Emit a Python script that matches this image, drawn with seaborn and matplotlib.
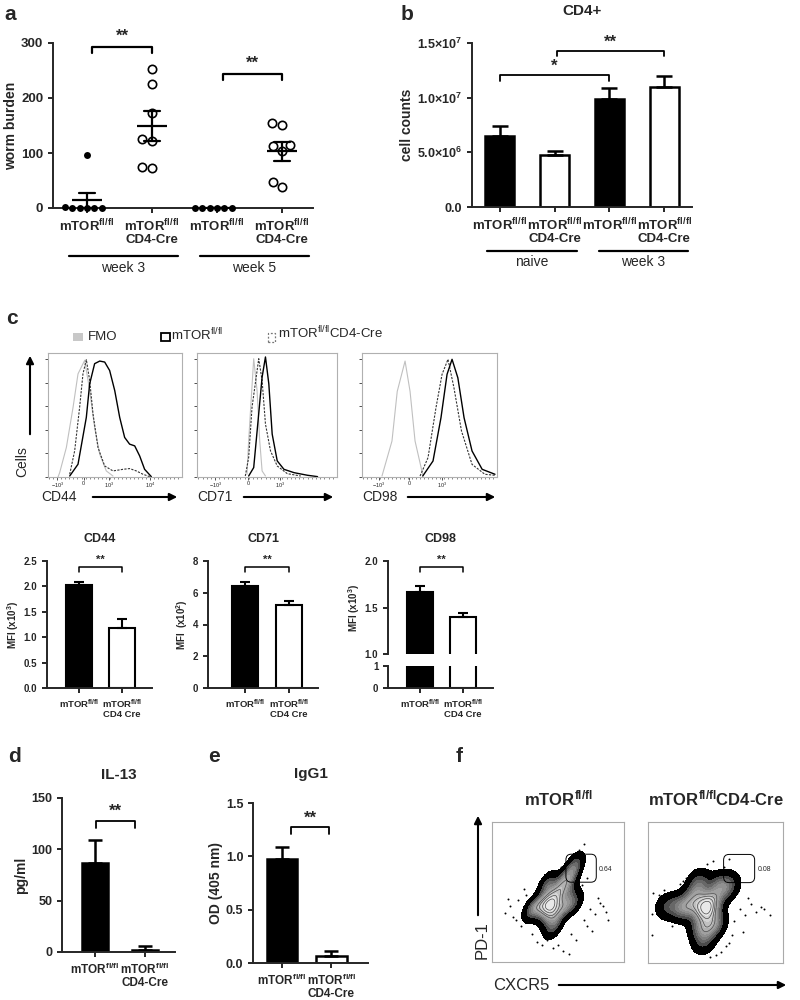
import numpy as np
import pandas as pd
import matplotlib.pyplot as plt
import seaborn as sns
from matplotlib.patches import Rectangle, FancyArrowPatch, FancyBboxPatch
from matplotlib.lines import Line2D
from matplotlib.colors import LinearSegmentedColormap, ListedColormap

sns.set_theme(style='ticks')
plt.rcParams['font.family'] = ['Liberation Sans', 'DejaVu Sans']
plt.rcParams['mathtext.fontset'] = 'custom'
plt.rcParams['mathtext.rm'] = 'Liberation Sans'
plt.rcParams['mathtext.bf'] = 'Liberation Sans:bold'
plt.rcParams['mathtext.default'] = 'regular'
plt.rcParams['axes.linewidth'] = 1.4
plt.rcParams['xtick.major.width'] = 1.4
plt.rcParams['ytick.major.width'] = 1.4
plt.rcParams['xtick.major.size'] = 3.5
plt.rcParams['ytick.major.size'] = 3.5

WT = 'mTOR$^{fl/fl}$'
KO = 'mTOR$^{fl/fl}$\nCD4-Cre'
KO_SP = 'mTOR$^{fl/fl}$\nCD4 Cre'

# ---- a: worm burden (individual mice)
worm_groups = ['wt3', 'ko3', 'wt5', 'ko5']
worm_wt3 = [97, 0, 0, 0, 0, 0, 1]
worm_ko3 = [253, 225, 172, 125, 122, 72, 75]
worm_wt5 = [0, 0, 0, 0, 0, 0]
worm_ko5 = [150, 155, 112, 115, 103, 38, 47]

# ---- b: CD4+ cell counts
cell_groups = ['naive_wt', 'naive_ko', 'wk3_wt', 'wk3_ko']
cell_means = [6.45e6, 4.75e6, 9.85e6, 1.10e7]
cell_sem = [1.0e6, 0.35e6, 1.0e6, 0.95e6]

# ---- c: histograms (x = % of axis width, y = % of mode)
cd44_fmo_x = [7.5, 8.7, 13.7, 18.7, 22.4, 27.4, 31.1, 34.8, 38.6, 43.5, 48.5]
cd44_fmo_y = [0, 3.5, 23.8, 56.2, 83.2, 94.1, 69.7, 40.0, 18.4, 4.9, 0.8]
cd44_ko_x = [16.2, 19.9, 23.6, 26.1, 28.6, 31.1, 33.6, 37.3, 42.3, 48.5, 56.0, 60.9, 65.9, 70.9, 75.9]
cd44_ko_y = [2.2, 21.1, 56.2, 83.2, 94.6, 77.8, 50.8, 23.8, 8.9, 4.9, 6.2, 6.8, 4.9, 2.2, 0.3]
cd44_wt_x = [16.2, 22.4, 28.6, 31.1, 34.8, 38.6, 42.3, 46.0, 49.8, 53.5, 57.2, 60.9, 64.7, 68.4, 72.1, 77.1]
cd44_wt_y = [0.8, 10.3, 48.1, 75.1, 91.4, 93.5, 92.7, 85.9, 69.7, 48.1, 31.9, 26.5, 25.1, 17.0, 6.2, 0.3]

cd71_fmo_x = [35.7, 36.9, 40.5, 42.9, 44.8, 46.5, 48.9]
cd71_fmo_y = [2.2, 29.2, 95.4, 69.7, 29.2, 4.9, 0.8]
cd71_ko_x = [34.5, 36.9, 39.3, 44.1, 46.5, 48.9, 52.5, 57.3, 64.5, 74.1]
cd71_ko_y = [0.8, 15.7, 56.2, 95.4, 77.8, 42.7, 21.1, 8.9, 2.7, 0.8]
cd71_wt_x = [36.9, 40.5, 43.4, 46.5, 48.9, 51.3, 53.7, 57.3, 62.1, 69.3, 78.9, 86.1]
cd71_wt_y = [0.8, 7.6, 42.7, 80.5, 96.8, 75.1, 34.6, 13.0, 6.2, 3.5, 1.4, 0.3]

cd98_fmo_x = [14.8, 22.2, 26.1, 31.9, 35.6, 39.3, 45.2]
cd98_fmo_y = [0.8, 29.0, 69.0, 93.5, 69.0, 29.0, 0.8]
cd98_ko_x = [43.0, 48.9, 54.8, 59.3, 63.7, 68.1, 73.7, 81.5, 91.0, 99.0]
cd98_ko_y = [0.8, 15.6, 55.9, 82.8, 94.9, 72.0, 37.1, 10.2, 2.2, 1.3]
cd98_wt_x = [45.0, 52.6, 58.5, 63.0, 66.7, 71.0, 75.6, 81.5, 89.0, 98.5]
cd98_wt_y = [0.8, 12.9, 47.8, 82.8, 94.9, 80.0, 47.8, 21.0, 6.2, 2.2]

cd44_ticks = [7.0, 26.6, 45.8, 76.0]
cd71_ticks = [13.0, 36.7, 59.0]
cd98_ticks = [12.6, 34.8, 59.3]

# ---- c: MFI bars
mfi_groups = ['wt', 'ko']
cd44_mfi = [2.02, 1.19]
cd44_sem = [0.07, 0.16]
cd71_mfi = [6.40, 5.25]
cd71_sem = [0.30, 0.20]
cd98_mfi = [1.67, 1.40]
cd98_sem = [0.06, 0.04]

# ---- d / e
il13_means = [87, 2]
il13_sem = [22, 3.5]
igg1_means = [0.975, 0.07]
igg1_sem = [0.11, 0.045]

# ---- f: events (% of axis)
f1_x = [44, 42, 46, 44, 40, 48, 34, 30, 37, 46, 47, 44, 56, 62, 52, 52, 57, 61, 63, 55, 50, 58, 44, 42]
f1_y = [40, 42, 38, 44, 38, 42, 39, 38, 41, 30, 25, 34, 40, 42, 38, 50, 56, 64, 70, 60, 52, 48, 52, 56]
f2_x = [43, 41, 45, 43, 39, 47, 45, 30, 22, 14, 34, 26, 38, 38, 34, 50, 56, 60, 52, 50, 48, 42, 41, 44, 38]
f2_y = [38, 40, 36, 42, 36, 40, 44, 40, 41, 40, 42, 38, 52, 58, 48, 48, 52, 56, 56, 30, 26, 22, 15, 28, 26]
f1_dots_x = [10, 14, 18, 20, 22, 26, 70, 74, 78, 82, 86, 72, 76, 80, 60, 64, 30, 34, 38, 42, 46, 50, 54, 58,
             12, 16, 84, 88, 66, 70, 24, 28, 72, 68, 40, 52]
f1_dots_y = [35, 40, 30, 44, 26, 48, 30, 38, 34, 42, 36, 26, 22, 46, 20, 16, 20, 14, 12, 16, 10, 12, 8, 6,
             45, 32, 40, 30, 80, 84, 52, 30, 60, 55, 62, 68]
f2_dots_x = [8, 10, 12, 20, 24, 28, 64, 68, 72, 76, 80, 84, 70, 74, 62, 66, 58, 30, 34, 40, 46, 50, 54, 60,
             44, 48, 86, 90, 56, 60, 3, 3, 4, 18, 26, 66]
f2_dots_y = [48, 36, 52, 30, 56, 60, 30, 38, 34, 42, 36, 40, 22, 46, 20, 50, 12, 26, 20, 8, 4, 6, 8, 14,
             70, 72, 38, 34, 68, 74, 20, 35, 50, 26, 58, 62]
gate_pct = ['0.64', '0.08']

fig = plt.figure(figsize=(8, 10), dpi=100)


def box(x0, y0, x1, y1):
    return [x0 / 800, 1 - y1 / 1000, (x1 - x0) / 800, (y1 - y0) / 1000]


def fx(x):
    return x / 800


def fy(y):
    return 1 - y / 1000


def fline(x0, x1, y, lw=1.6):
    fig.add_artist(Line2D([fx(x0), fx(x1)], [fy(y), fy(y)], color='black', lw=lw))


def ftext(x, y, s, **kw):
    fig.text(fx(x), fy(y), s, **kw)


def farrow(x0, y0, x1, y1):
    fig.add_artist(FancyArrowPatch((fx(x0), fy(y0)), (fx(x1), fy(y1)), transform=fig.transFigure,
                                   arrowstyle='-|>', mutation_scale=11, lw=1.5, color='black'))


def bracket(ax, x0, x1, y, h, text, ty, fs, lw=1.3):
    ax.plot([x0, x0, x1, x1], [y - h, y, y, y - h], color='black', lw=lw, clip_on=False)
    ax.text((x0 + x1) / 2, ty, text, ha='center', va='center', fontweight='bold', fontsize=fs, clip_on=False)


def bar_panel(ax, groups, means, sem, width, capsize, lw=1.5):
    colors = dict(zip(groups, ['black', 'white'] * 2))
    sns.barplot(x=groups, y=means, hue=groups, palette=colors, order=groups, width=width, saturation=1,
                edgecolor='black', linewidth=lw, legend=False, ax=ax)
    ax.errorbar(range(len(groups)), means, yerr=[np.zeros(len(groups)), sem], fmt='none',
                ecolor='black', elinewidth=lw, capsize=capsize, capthick=lw, clip_on=False)
    sns.despine(ax=ax)
    ax.set_xlabel('')


# ================= a
ax = fig.add_axes(box(53, 43, 313, 208))
df_a = pd.DataFrame({
    'grp': ['wt3'] * len(worm_wt3) + ['ko3'] * len(worm_ko3) + ['wt5'] * len(worm_wt5) + ['ko5'] * len(worm_ko5),
    'val': worm_wt3 + worm_ko3 + worm_wt5 + worm_ko5})
sns.swarmplot(data=df_a[df_a.grp.isin(['wt3', 'wt5'])], x='grp', y='val', order=worm_groups, color='black',
              size=5, ax=ax, clip_on=False, zorder=3)
sns.swarmplot(data=df_a[df_a.grp.isin(['ko3', 'ko5'])], x='grp', y='val', order=worm_groups, color='white',
              edgecolor='black', linewidth=1.2, size=6, ax=ax, clip_on=False, zorder=3)
sns.pointplot(data=df_a, x='grp', y='val', order=worm_groups, errorbar='se', capsize=0.26, color='black',
              marker='_', markersize=22, markeredgewidth=1.6, linestyle='none', err_kws={'linewidth': 1.6},
              ax=ax, zorder=4)
ax.set_ylim(0, 300)
ax.set_xlim(-0.523, 3.477)
ax.set_yticks([0, 100, 200, 300])
ax.set_xticks(range(4))
ax.set_xticklabels([WT, KO, WT, KO], fontweight='bold', fontsize=9.5, linespacing=1.0)
ax.tick_params(axis='y', labelsize=9.5)
for t in ax.get_yticklabels():
    t.set_fontweight('bold')
ax.set_ylabel('worm burden', fontweight='bold', fontsize=10, labelpad=2)
ax.set_xlabel('')
sns.despine(ax=ax)
bracket(ax, 0.08, 1, 292.7, 10.9, '**', 313, 12, lw=1.6)
bracket(ax, 2.09, 3, 243.6, 10.9, '**', 264, 12, lw=1.6)
fline(69, 178, 256)
fline(200, 309, 256)
ftext(123, 268, 'week 3', ha='center', va='center', fontsize=10)
ftext(254, 268, 'week 5', ha='center', va='center', fontsize=10)
ftext(4, 15, 'a', fontsize=15, fontweight='bold', va='center')

# ================= b
ax = fig.add_axes(box(472, 43, 692, 207))
bar_panel(ax, cell_groups, cell_means, cell_sem, 0.53, 5.5, lw=1.8)
ax.set_ylim(0, 1.5e7)
ax.set_xlim(-0.51, 3.51)
ax.set_yticks([0, 5e6, 1e7, 1.5e7])
ax.set_yticklabels(['0.0', '5.0×10$^6$', '1.0×10$^7$', '1.5×10$^7$'], fontweight='bold', fontsize=9)
ax.set_xticks(range(4))
ax.set_xticklabels([WT, KO, WT, KO], fontweight='bold', fontsize=9.5, linespacing=1.0)
ax.set_ylabel('cell counts', fontweight='bold', fontsize=10, labelpad=2)
ax.set_title('CD4+', fontweight='bold', fontsize=11, pad=20)
bracket(ax, 0, 2, 1.207e7, 0.05e7, '*', 1.29e7, 12)
bracket(ax, 1.05, 3, 1.427e7, 0.046e7, '**', 1.51e7, 12)
fline(487, 577, 251)
fline(599, 688, 251)
ftext(532, 262, 'naive', ha='center', va='center', fontsize=10)
ftext(643, 262, 'week 3', ha='center', va='center', fontsize=10)
ftext(401, 15, 'b', fontsize=15, fontweight='bold', va='center')

# ================= c histograms
ftext(6, 318, 'c', fontsize=15, fontweight='bold', va='center')
fig.add_artist(Rectangle((fx(73), fy(341)), 10 / 800, 8 / 1000, transform=fig.transFigure,
                         facecolor='#c8c8c8', edgecolor='none'))
ftext(88, 337, 'FMO', fontsize=9.5, va='center')
fig.add_artist(Rectangle((fx(161), fy(341)), 9 / 800, 8 / 1000, transform=fig.transFigure,
                         facecolor='none', edgecolor='black', lw=1.3))
ftext(171, 335, WT, fontsize=9.5, va='center')
fig.add_artist(Rectangle((fx(268), fy(342)), 7 / 800, 9 / 1000, transform=fig.transFigure,
                         facecolor='none', edgecolor='#777777', lw=0.9, ls=(0, (1.5, 1.5))))
ftext(278, 333, 'mTOR$^{fl/fl}$CD4-Cre', fontsize=9.5, va='center')

hist_specs = [
    ((48, 353, 182, 477), 'CD44', cd44_ticks, ['$-10^3$', '0', '$10^3$', '$10^4$'],
     (cd44_fmo_x, cd44_fmo_y), (cd44_wt_x, cd44_wt_y), (cd44_ko_x, cd44_ko_y), (41, 90, 180)),
    ((197, 353, 337, 477), 'CD71', cd71_ticks, ['$-10^3$', '0', '$10^3$'],
     (cd71_fmo_x, cd71_fmo_y), (cd71_wt_x, cd71_wt_y), (cd71_ko_x, cd71_ko_y), (197, 241, 336)),
    ((362, 353, 497, 477), 'CD98', cd98_ticks, ['$-10^3$', '0', '$10^3$'],
     (cd98_fmo_x, cd98_fmo_y), (cd98_wt_x, cd98_wt_y), (cd98_ko_x, cd98_ko_y), (362, 405, 498)),
]
for rect, marker, ticks, tlabels, fmo, wt, ko, lab in hist_specs:
    ax = fig.add_axes(box(*rect))
    sns.lineplot(x=fmo[0], y=fmo[1], sort=False, estimator=None, color='#c0c0c0', lw=0.8, ax=ax)
    sns.lineplot(x=ko[0], y=ko[1], sort=False, estimator=None, color='#333333', lw=0.8, ls=(0, (2, 1.2)), ax=ax)
    sns.lineplot(x=wt[0], y=wt[1], sort=False, estimator=None, color='black', lw=1.0, ax=ax)
    ax.set_xlim(0, 100)
    ax.set_ylim(0, 100)
    ax.set_xticks(ticks)
    ax.set_xticklabels(tlabels, fontsize=4)
    ax.set_xticks(np.arange(1, 100, 3), minor=True)
    ax.set_yticks(np.arange(0, 100, 19))
    ax.set_yticklabels([])
    ax.tick_params(axis='both', which='major', length=2, width=0.6, pad=1, color='#333333')
    ax.tick_params(axis='x', which='minor', length=1.2, width=0.4, color='#333333')
    for s in ax.spines.values():
        s.set_color('#b0b0b0')
        s.set_linewidth(0.8)
    ax.set_xlabel('')
    ax.set_ylabel('')
    ftext(lab[0], 497, marker, fontsize=10, va='center')
    farrow(lab[1], 497, lab[2], 497)

fig.text(fx(22), fy(462), 'Cells', rotation=90, fontsize=10, ha='center', va='center')
farrow(30, 437, 30, 353)

# ================= c MFI bars
ax = fig.add_axes(box(47, 561, 152, 688))
bar_panel(ax, mfi_groups, cd44_mfi, cd44_sem, 0.6, 3.8, lw=1.5)
ax.set_ylim(0, 2.5)
ax.set_xlim(-0.74, 1.70)
ax.set_yticks([0, 0.5, 1.0, 1.5, 2.0, 2.5])
ax.set_yticklabels(['0.0', '0.5', '1.0', '1.5', '2.0', '2.5'], fontweight='bold', fontsize=7)
ax.set_xticks([0, 1])
ax.set_xticklabels([WT, KO_SP], fontweight='bold', fontsize=6.8, linespacing=1.0)
ax.set_ylabel('MFI (x10$^3$)', fontweight='bold', fontsize=7, labelpad=2)
ax.set_title('CD44', fontweight='bold', fontsize=9, pad=14)
bracket(ax, 0, 1, 2.38, 0.1, '**', 2.53, 8, lw=1.1)

ax = fig.add_axes(box(208, 561, 318, 688))
bar_panel(ax, mfi_groups, cd71_mfi, cd71_sem, 0.6, 3.8, lw=1.5)
ax.set_ylim(0, 8)
ax.set_xlim(-0.84, 1.66)
ax.set_yticks([0, 2, 4, 6, 8])
ax.set_yticklabels(['0', '2', '4', '6', '8'], fontweight='bold', fontsize=7)
ax.set_xticks([0, 1])
ax.set_xticklabels([WT, KO_SP], fontweight='bold', fontsize=6.8, linespacing=1.0)
ax.set_ylabel('MFI  (x10$^2$)', fontweight='bold', fontsize=7, labelpad=2)
ax.set_title('CD71', fontweight='bold', fontsize=9, pad=14)
bracket(ax, 0, 1, 7.62, 0.32, '**', 8.1, 8, lw=1.1)

ax_up = fig.add_axes(box(388, 561, 493, 654))
bar_panel(ax_up, mfi_groups, cd98_mfi, cd98_sem, 0.6, 3.8, lw=1.5)
ax_up.set_ylim(1.0, 2.0)
ax_up.set_xlim(-0.74, 1.70)
ax_up.set_yticks([1.0, 1.5, 2.0])
ax_up.set_yticklabels(['1.0', '1.5', '2.0'], fontweight='bold', fontsize=7)
ax_up.set_xticks([])
ax_up.spines['bottom'].set_visible(False)
ax_up.set_ylabel('MFI (x10$^3$)', fontweight='bold', fontsize=7, labelpad=2)
ax_up.set_title('CD98', fontweight='bold', fontsize=9, pad=14)
bracket(ax_up, 0, 1, 1.935, 0.055, '**', 2.01, 8, lw=1.1)

ax = fig.add_axes(box(388, 666, 493, 688))
bar_panel(ax, mfi_groups, cd98_mfi, [0, 0], 0.6, 0, lw=1.5)
ax.set_ylim(0, 1)
ax.set_xlim(-0.74, 1.70)
ax.set_yticks([0, 1])
ax.set_yticklabels(['0', '1'], fontweight='bold', fontsize=7)
ax.set_xticks([0, 1])
ax.set_xticklabels([WT, KO_SP], fontweight='bold', fontsize=6.8, linespacing=1.0)
ax.set_ylabel('')

# ================= d
ax = fig.add_axes(box(62, 798, 175, 952))
bar_panel(ax, mfi_groups, il13_means, il13_sem, 0.53, 5, lw=1.8)
ax.set_ylim(0, 150)
ax.set_xlim(-0.66, 1.6)
ax.set_yticks([0, 50, 100, 150])
ax.set_yticklabels(['0', '50', '100', '150'], fontweight='bold', fontsize=9)
ax.set_xticks([0, 1])
ax.set_xticklabels([WT, KO], fontweight='bold', fontsize=8.5, linespacing=1.0)
ax.set_ylabel('pg/ml', fontweight='bold', fontsize=10, labelpad=2)
ax.set_title('IL-13', fontweight='bold', fontsize=11, pad=14)
bracket(ax, 0.02, 0.8, 127.6, 6.8, '**', 137, 12)
ftext(8, 757, 'd', fontsize=15, fontweight='bold', va='center')

# ================= e
ax = fig.add_axes(box(253, 803, 368, 963))
bar_panel(ax, mfi_groups, igg1_means, igg1_sem, 0.63, 5, lw=1.8)
ax.set_ylim(0, 1.5)
ax.set_xlim(-0.59, 1.75)
ax.set_yticks([0, 0.5, 1.0, 1.5])
ax.set_yticklabels(['0.0', '0.5', '1.0', '1.5'], fontweight='bold', fontsize=9)
ax.set_xticks([0, 1])
ax.set_xticklabels([WT, KO], fontweight='bold', fontsize=8.5, linespacing=1.0)
ax.set_ylabel('OD (405 nm)', fontweight='bold', fontsize=10, labelpad=2)
ax.set_title('IgG1', fontweight='bold', fontsize=11, pad=18)
bracket(ax, 0.18, 0.96, 1.275, 0.066, '**', 1.36, 12)
ftext(208, 757, 'e', fontsize=15, fontweight='bold', va='center')

# ================= f
zebra = LinearSegmentedColormap.from_list('zebra', ['#3c3c3c', '#7a7a7a', '#a6a6a6', '#c8c8c8',
                                                   '#e0e0e0', '#f2f2f2'])
f_specs = [((492, 822, 624, 962), f1_x, f1_y, f1_dots_x, f1_dots_y, gate_pct[0], 'mTOR$^{fl/fl}$'),
           ((648, 822, 783, 963), f2_x, f2_y, f2_dots_x, f2_dots_y, gate_pct[1], 'mTOR$^{fl/fl}$CD4-Cre')]
for rect, px, py, dx, dy, pct, title in f_specs:
    ax = fig.add_axes(box(*rect))
    sns.scatterplot(x=dx, y=dy, s=2, color='black', linewidth=0, ax=ax)
    sns.kdeplot(x=px, y=py, fill=True, levels=[0.03, 1.0], bw_adjust=0.85, cmap=ListedColormap(['black']), ax=ax)
    sns.kdeplot(x=px, y=py, fill=True, levels=10, thresh=0.16, bw_adjust=0.85, cmap=zebra, ax=ax)
    sns.kdeplot(x=px, y=py, levels=[0.62, 0.74, 0.85, 0.93], bw_adjust=0.85, colors='#4a4a4a',
                linewidths=0.5, ax=ax)
    ax.add_patch(FancyBboxPatch((56, 57), 23, 20, boxstyle='round,pad=0,rounding_size=4',
                                facecolor='none', edgecolor='black', lw=0.7))
    ax.text(81, 66, pct, fontsize=5, va='center')
    ax.set_xlim(0, 100)
    ax.set_ylim(0, 100)
    ax.set_xticks([])
    ax.set_yticks([])
    ax.set_xlabel('')
    ax.set_ylabel('')
    for s in ax.spines.values():
        s.set_color('#aaaaaa')
        s.set_linewidth(0.8)
    ax.set_title(title, fontweight='bold', fontsize=12, pad=12)

ftext(456, 757, 'f', fontsize=15, fontweight='bold', va='center')
fig.text(fx(482), fy(940), 'PD-1', rotation=90, fontsize=12, ha='center', va='center')
farrow(478, 918, 478, 813)
ftext(493, 985, 'CXCR5', fontsize=12, va='center')
farrow(556, 985, 789, 985)

fig.savefig('out.png', dpi=100)
